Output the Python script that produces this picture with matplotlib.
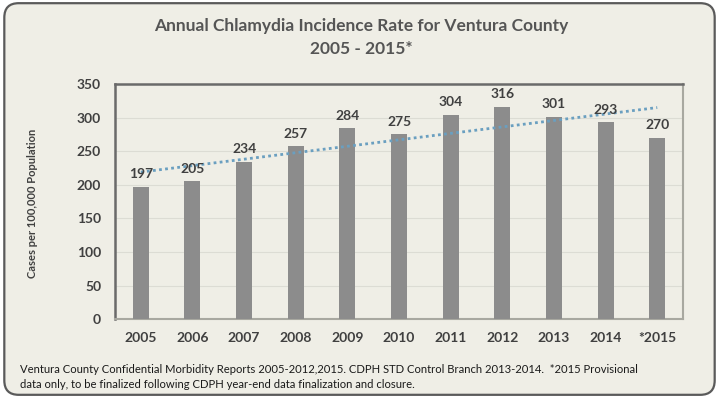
import matplotlib.pyplot as plt
import numpy as np
from matplotlib.patches import FancyBboxPatch

years = ['2005', '2006', '2007', '2008', '2009', '2010', '2011', '2012', '2013', '2014', '*2015']
rates = [197, 205, 234, 257, 284, 275, 304, 316, 301, 293, 270]
yticks = [0, 50, 100, 150, 200, 250, 300, 350]

bg = '#efeee6'
txt = '#404040'
plt.rcParams['font.family'] = ['Lato', 'DejaVu Sans']

fig = plt.figure(figsize=(7.19, 3.98), dpi=100)
fig.patch.set_facecolor('white')

# rounded outer frame, behind the axes
frame = FancyBboxPatch((0.006, 0.008), 0.988, 0.984, boxstyle='round,pad=0,rounding_size=0.02',
                       transform=fig.transFigure, facecolor=bg, edgecolor='#5a5a5a', lw=1.6,
                       mutation_aspect=719 / 398, zorder=-5)
fig.patches.append(frame)

ax = fig.add_axes([0.160, 0.198, 0.790, 0.591])
ax.set_facecolor(bg)
x = np.arange(len(years))
ax.bar(x, rates, width=0.31, color='#8c8c8c', zorder=3)

# linear trendline
coef = np.polyfit(x, rates, 1)
ax.plot(x, np.polyval(coef, x), linestyle=(0, (1, 1.2)), color='#6a9fc0', lw=2, zorder=4)

for xi, v in zip(x, rates):
    ax.text(xi, v + 10, str(v), ha='center', va='bottom', fontsize=10, fontweight='bold', color=txt, zorder=5)

ax.set_xlim(-0.5, len(years) - 0.5)
ax.set_ylim(0, 350)
ax.set_yticks(yticks)
ax.set_xticks(x)
ax.set_xticklabels(years)
ax.yaxis.grid(True, color='#dcdcd4', lw=0.8, zorder=0)
ax.tick_params(length=0, labelsize=10, colors=txt, pad=9)
for lab in ax.get_xticklabels() + ax.get_yticklabels():
    lab.set_fontweight('bold')
ax.tick_params(axis='y', pad=10)

ax.spines['top'].set_color('#6a6a6a')
ax.spines['left'].set_color('#6a6a6a')
ax.spines['top'].set_linewidth(1.8)
ax.spines['left'].set_linewidth(1.8)
ax.spines['right'].set_color('#a8a8a0')
ax.spines['bottom'].set_color('#a8a8a0')
ax.spines['right'].set_linewidth(1.5)
ax.spines['bottom'].set_linewidth(1.5)

fig.text(0.045, 0.49, 'Cases per 100,000 Population', rotation=90, ha='center', va='center',
         fontsize=8, fontweight='bold', color=txt)

fig.text(0.503, 0.935, 'Annual Chlamydia Incidence Rate for Ventura County', ha='center', va='center',
         fontsize=12.5, fontweight='bold', color='#555555')
fig.text(0.503, 0.877, '2005 - 2015*', ha='center', va='center',
         fontsize=12.5, fontweight='bold', color='#555555')

fig.text(0.028, 0.052, 'Ventura County Confidential Morbidity Reports 2005-2012,2015. CDPH STD Control Branch 2013-2014.  *2015 Provisional\n'
         'data only, to be finalized following CDPH year-end data finalization and closure.',
         ha='left', va='center', fontsize=8.1, color='#1a1a1a', linespacing=1.45)

plt.savefig('out.png', dpi=100, facecolor=fig.get_facecolor())
plt.close(fig)
